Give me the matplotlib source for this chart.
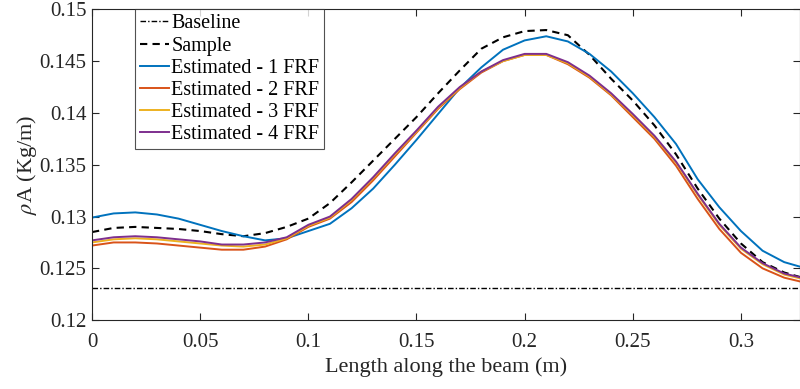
import numpy as np
import matplotlib
matplotlib.use("Agg")
import matplotlib.pyplot as plt

# position along the beam (m)
x = np.round(np.arange(0, 0.331, 0.01), 2)

baseline = 0.1231
sample = [0.1285, 0.1289, 0.1290, 0.1289, 0.1288, 0.1286, 0.1283, 0.1281, 0.1284, 0.1290, 0.1298,
          0.1313, 0.1333, 0.1354, 0.1375, 0.1396, 0.1419, 0.1441, 0.1462, 0.1473, 0.1479,
          0.1480, 0.1475, 0.1456, 0.1433, 0.1412, 0.1388, 0.1360, 0.1327, 0.1298, 0.1274, 0.1256, 0.1246, 0.1240]
est1 = [0.1299, 0.1303, 0.1304, 0.1302, 0.1298, 0.1292, 0.1286, 0.1281, 0.1277, 0.1279, 0.1286,
        0.1293, 0.1308, 0.1327, 0.1350, 0.1374, 0.1399, 0.1424, 0.1444, 0.1461, 0.1470,
        0.1474, 0.1469, 0.1457, 0.1440, 0.1419, 0.1396, 0.1370, 0.1336, 0.1309, 0.1286, 0.1267, 0.1256, 0.1250]
est2 = [0.1272, 0.1275, 0.1275, 0.1274, 0.1272, 0.1270, 0.1268, 0.1268, 0.1271, 0.1278, 0.1290,
        0.1298, 0.1314, 0.1335, 0.1358, 0.1381, 0.1404, 0.1423, 0.1439, 0.1450, 0.1456,
        0.1456, 0.1447, 0.1434, 0.1417, 0.1396, 0.1375, 0.1349, 0.1317, 0.1288, 0.1265, 0.1250, 0.1241, 0.1236]
est3 = [0.1275, 0.1278, 0.1279, 0.1278, 0.1276, 0.1274, 0.1272, 0.1271, 0.1273, 0.1279, 0.1291,
        0.1299, 0.1316, 0.1337, 0.1360, 0.1382, 0.1405, 0.1424, 0.1440, 0.1450, 0.1456,
        0.1456, 0.1448, 0.1435, 0.1418, 0.1398, 0.1377, 0.1352, 0.1321, 0.1292, 0.1269, 0.1254, 0.1244, 0.1239]
est4 = [0.1277, 0.1280, 0.1281, 0.1280, 0.1278, 0.1276, 0.1273, 0.1273, 0.1275, 0.1280, 0.1292,
        0.1300, 0.1317, 0.1338, 0.1361, 0.1383, 0.1406, 0.1425, 0.1440, 0.1451, 0.1457,
        0.1457, 0.1449, 0.1436, 0.1419, 0.1399, 0.1378, 0.1353, 0.1322, 0.1293, 0.1270, 0.1255, 0.1245, 0.1240]

labels = ["Baseline", "Sample", "Estimated - 1 FRF", "Estimated - 2 FRF",
          "Estimated - 3 FRF", "Estimated - 4 FRF"]
colors = ["#0072BD", "#D95319", "#EDB120", "#7E2F8E"]

plt.rcParams['font.family'] = ['Liberation Serif', 'DejaVu Serif']
plt.rcParams['mathtext.fontset'] = 'stix'

fig = plt.figure(figsize=(8, 3.89), dpi=100)
ax = fig.add_axes([0.115, 0.177, 0.885, 0.799])

ax.plot(x, np.full(len(x), baseline), color='k', lw=1.0, ls=(0, (4, 1.5, 1, 1.5)), label=labels[0])
ax.plot(x, sample, color='k', lw=1.5, ls=(0, (3.5, 2.5)), label=labels[1])
for y, c, lab in zip([est1, est2, est3, est4], colors, labels[2:]):
    ax.plot(x, y, color=c, lw=1.4, label=lab)

ax.set_xlim(0, 0.3273)
ax.set_ylim(0.12, 0.15)
ax.set_xticks([0, 0.05, 0.1, 0.15, 0.2, 0.25, 0.3])
ax.set_xticklabels(["0", "0.05", "0.1", "0.15", "0.2", "0.25", "0.3"])
ax.set_yticks([0.12, 0.125, 0.13, 0.135, 0.14, 0.145, 0.15])
ax.set_yticklabels(["0.12", "0.125", "0.13", "0.135", "0.14", "0.145", "0.15"])
ax.tick_params(direction='in', top=True, right=True, labelsize=15, color='#262626',
               labelcolor='#262626', length=5, width=0.8)
ax.tick_params(axis='x', pad=9)
ax.tick_params(axis='y', pad=4)
for s in ax.spines.values():
    s.set_color('#262626')
    s.set_linewidth(0.8)

ax.set_xlabel("Length along the beam (m)", fontsize=16, color='#262626', labelpad=4)
ax.set_ylabel(r"$\rho$A (Kg/m)", fontsize=16, color='#262626', labelpad=0)

leg = ax.legend(loc='upper left', bbox_to_anchor=(0.061, 1.0), borderaxespad=0,
                fontsize=14.5, frameon=True, fancybox=False, edgecolor='#262626',
                handlelength=1.45, handletextpad=0.1, labelspacing=0.15, borderpad=0.25)
leg.get_frame().set_linewidth(0.8)

fig.savefig("out.png", dpi=100)
